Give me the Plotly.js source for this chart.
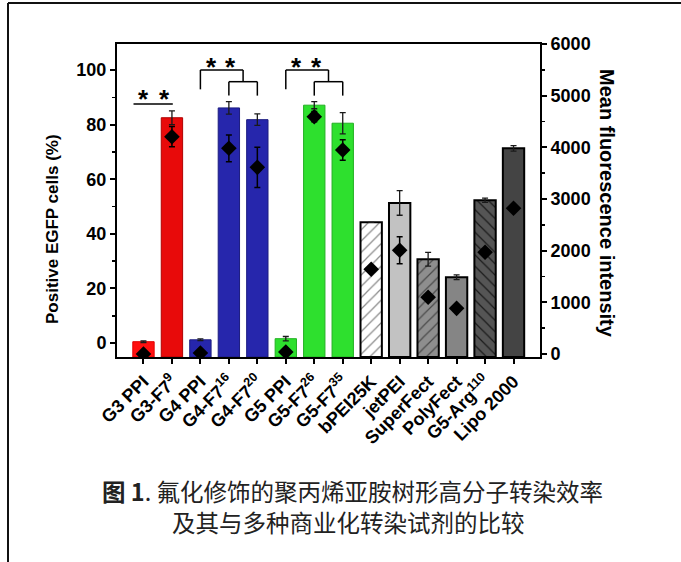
<!DOCTYPE html>
<html>
<head>
<meta charset="utf-8">
<script src="https://cdn.plot.ly/plotly-3.0.1.min.js"></script>
<style>
html,body{margin:0;padding:0;background:#fff;}
#chart{width:681px;height:562px;}
</style>
</head>
<body>
<div id="chart"></div>
<script>
// ---- data ----
const categories = ["G3 PPI","G3-F7_9","G4 PPI","G4-F7_16","G4-F7_20","G5 PPI","G5-F7_26","G5-F7_35","bPEI25K","jetPEI","SuperFect","PolyFect","G5-Arg110","Lipo 2000"];
const tickLabels = ["G3 PPI","G3-F7<sup>9</sup>","G4 PPI","G4-F7<sup>16</sup>","G4-F7<sup>20</sup>","G5 PPI","G5-F7<sup>26</sup>","G5-F7<sup>35</sup>","bPEI25K","jetPEI","SuperFect","PolyFect","G5-Arg<sup>110</sup>","Lipo 2000"];
const positivePct = [0.5, 82.5, 1.2, 86.1, 81.8, 1.6, 87.1, 80.5, 44.2, 51.3, 30.7, 24.1, 52.3, 71.3];
const positiveErr = [0.3, 2.5, 0.3, 2.3, 2.1, 0.8, 1.3, 3.9, 0, 4.5, 2.5, 0.9, 0.8, 1.0];
const meanFluor = [0, 4206, 20, 3981, 3613, 40, 4593, 3948, 1640, 2007, 1097, 884, 1968, 2820];
const meanFluorErr = [0, 195, 0, 260, 390, 0, 100, 200, 0, 260, 0, 0, 0, 0];
const barColors = ["#ff1010","#e80a0a","#2626ac","#2626ac","#2626ac","#2ee02e","#2ee02e","#2ee02e","#ffffff","#c2c2c2","#8e8e8e","#858585","#555555","#444444"];
const barLineColors = ["#e00000","#b00000","#1c1c80","#1c1c80","#1c1c80","#22b022","#22b022","#22b022","#000000","#000000","#000000","#000000","#000000","#000000"];
const barPatterns = ["","","","","","","","","/","","/","","\\",""];
const patternColors = ["","","","","","","","","#8a8a8a","","#4a4a4a","","#1a1a1a",""];
const captionLine1 = "<b>图 1</b>. 氟化修饰的聚丙烯亚胺树形高分子转染效率";
const captionLine2 = "及其与多种商业化转染试剂的比较";

// ---- layout helpers ----
const W = 681, H = 562;
const mL = 117, mR = 141, mT = 44, mB = 205;
const pw = W - mL - mR, ph = H - mT - mB;
const px2x = p => (p - mL) / pw;
const px2y = p => (H - mB - p) / ph;

const yMin = -5.1, yMax = 109.5;
const xIdx = categories.map((c, i) => i);

// one bar trace per category so that per-bar fill patterns render reliably
const barTraces = categories.map((c, i) => {
  const m = {
    color: barColors[i],
    line: {color: barLineColors[i], width: i >= 8 ? 2 : 1}
  };
  if (barPatterns[i]) {
    m.pattern = {shape: barPatterns[i], fgcolor: patternColors[i], bgcolor: barColors[i], size: 8, solidity: 0.15, fillmode: 'replace'};
  }
  return {
    type: 'bar', x: [xIdx[i]], y: [positivePct[i] - yMin], base: yMin,
    width: 0.75, marker: m, hoverinfo: 'skip', showlegend: false
  };
});
const barErr = {
  type: 'scatter', mode: 'markers', x: xIdx, y: positivePct,
  marker: {opacity: 0, size: 1},
  error_y: {type: 'data', array: positiveErr, visible: true, color: '#1a1a1a', thickness: 1.3, width: 3},
  hoverinfo: 'skip', showlegend: false
};
const diamonds = {
  type: 'scatter', mode: 'markers', x: xIdx, y: meanFluor, yaxis: 'y2',
  marker: {symbol: 'diamond', size: 12, color: '#000'},
  error_y: {type: 'data', array: meanFluorErr, visible: true, color: '#000', thickness: 1.5, width: 3},
  hoverinfo: 'skip', showlegend: false
};

const blk = '#000';
const shapes = [
  {type:'line', xref:'paper', yref:'paper', x0:px2x(8), x1:px2x(681), y0:px2y(3), y1:px2y(3), line:{color:'#111', width:2}},
  {type:'line', xref:'paper', yref:'paper', x0:px2x(8), x1:px2x(8), y0:px2y(3), y1:px2y(562), line:{color:'#111', width:2}},
  {type:'line', xref:'x', yref:'y', x0:-0.35, x1:1.03, y0:87.5, y1:87.5, line:{color:blk, width:1.5}},
  {type:'line', xref:'x', yref:'y', x0:2, x1:2, y0:92.9, y1:100, line:{color:blk, width:1.5}},
  {type:'line', xref:'x', yref:'y', x0:2, x1:3.5, y0:100, y1:100, line:{color:blk, width:1.5}},
  {type:'line', xref:'x', yref:'y', x0:3.5, x1:3.5, y0:100, y1:95.7, line:{color:blk, width:1.5}},
  {type:'line', xref:'x', yref:'y', x0:3, x1:3, y0:90.6, y1:95.7, line:{color:blk, width:1.5}},
  {type:'line', xref:'x', yref:'y', x0:3, x1:4, y0:95.7, y1:95.7, line:{color:blk, width:1.5}},
  {type:'line', xref:'x', yref:'y', x0:4, x1:4, y0:95.7, y1:90.6, line:{color:blk, width:1.5}},
  {type:'line', xref:'x', yref:'y', x0:5, x1:5, y0:92.9, y1:100, line:{color:blk, width:1.5}},
  {type:'line', xref:'x', yref:'y', x0:5, x1:6.5, y0:100, y1:100, line:{color:blk, width:1.5}},
  {type:'line', xref:'x', yref:'y', x0:6.5, x1:6.5, y0:100, y1:95.7, line:{color:blk, width:1.5}},
  {type:'line', xref:'x', yref:'y', x0:6, x1:6, y0:90.6, y1:95.7, line:{color:blk, width:1.5}},
  {type:'line', xref:'x', yref:'y', x0:6, x1:7, y0:95.7, y1:95.7, line:{color:blk, width:1.5}},
  {type:'line', xref:'x', yref:'y', x0:7, x1:7, y0:95.7, y1:90.6, line:{color:blk, width:1.5}}
];

const starFont = {family:'Liberation Sans, Arial, sans-serif', size:26, color:'#000', weight:'bold'};
const star = (x, y) => ({xref:'x', yref:'y', x:x, y:y, text:'*', showarrow:false, font:starFont, xanchor:'center', yanchor:'middle'});
const annotations = [
  star(0.0, 89.2), star(0.74, 89.2),
  star(2.4, 101.1), star(3.07, 101.1),
  star(5.39, 101.1), star(6.08, 101.1),
  {xref:'paper', yref:'paper', x:px2x(52), y:px2y(229), text:'Positive EGFP cells (%)', textangle:-90, showarrow:false,
   font:{family:'Liberation Sans, Arial, sans-serif', size:17, color:'#000', weight:'bold'}, xanchor:'center', yanchor:'middle'},
  {xref:'paper', yref:'paper', x:px2x(607), y:px2y(203), text:'Mean fluorescence intensity', textangle:90, showarrow:false,
   font:{family:'Liberation Sans, Arial, sans-serif', size:20, color:'#000', weight:'bold'}, xanchor:'center', yanchor:'middle'},
  {xref:'paper', yref:'paper', x:px2x(352), y:px2y(491), text:captionLine1, showarrow:false,
   font:{family:'Noto Sans CJK SC, sans-serif', size:23.5, color:'#222'}, xanchor:'center', yanchor:'middle'},
  {xref:'paper', yref:'paper', x:px2x(348), y:px2y(522), text:captionLine2, showarrow:false,
   font:{family:'Noto Sans CJK SC, sans-serif', size:23.5, color:'#222'}, xanchor:'center', yanchor:'middle'}
];

const axFont = {family:'Liberation Sans, Arial, sans-serif', size:18, color:'#000', weight:'bold'};
const layout = {
  width: W, height: H,
  margin: {l:mL, r:mR, t:mT, b:mB, pad:0},
  paper_bgcolor:'#fff', plot_bgcolor:'#fff',
  barmode: 'overlay',
  xaxis: {
    range:[-0.93, 13.93], tickvals:xIdx, ticktext:tickLabels, tickangle:-45,
    tickfont:{family:'Liberation Sans, Arial, sans-serif', size:18, color:'#000', weight:'bold'},
    ticks:'outside', ticklen:5, tickwidth:2, tickcolor:'#000',
    showline:true, linecolor:'#000', linewidth:2, mirror:true, showgrid:false, zeroline:false, fixedrange:true
  },
  yaxis: {
    range:[yMin, yMax], tickvals:[0,20,40,60,80,100], tickfont:axFont,
    ticks:'outside', ticklen:5, tickwidth:2, tickcolor:'#000',
    minor:{tickvals:[10,30,50,70,90], ticks:'outside', ticklen:3, tickwidth:1.5, tickcolor:'#000'},
    showline:true, linecolor:'#000', linewidth:2, showgrid:false, zeroline:false
  },
  yaxis2: {
    overlaying:'y', side:'right', range:[-58, 6000], tickvals:[0,1000,2000,3000,4000,5000,6000], tickfont:axFont,
    ticks:'outside', ticklen:5, tickwidth:2, tickcolor:'#000',
    minor:{tickvals:[500,1500,2500,3500,4500,5500], ticks:'outside', ticklen:3, tickwidth:1.5, tickcolor:'#000'},
    showline:true, linecolor:'#000', linewidth:2, showgrid:false, zeroline:false
  },
  shapes: shapes,
  annotations: annotations
};

Plotly.newPlot('chart', [...barTraces, barErr, diamonds], layout, {staticPlot:true, displayModeBar:false});
</script>
</body>
</html>
